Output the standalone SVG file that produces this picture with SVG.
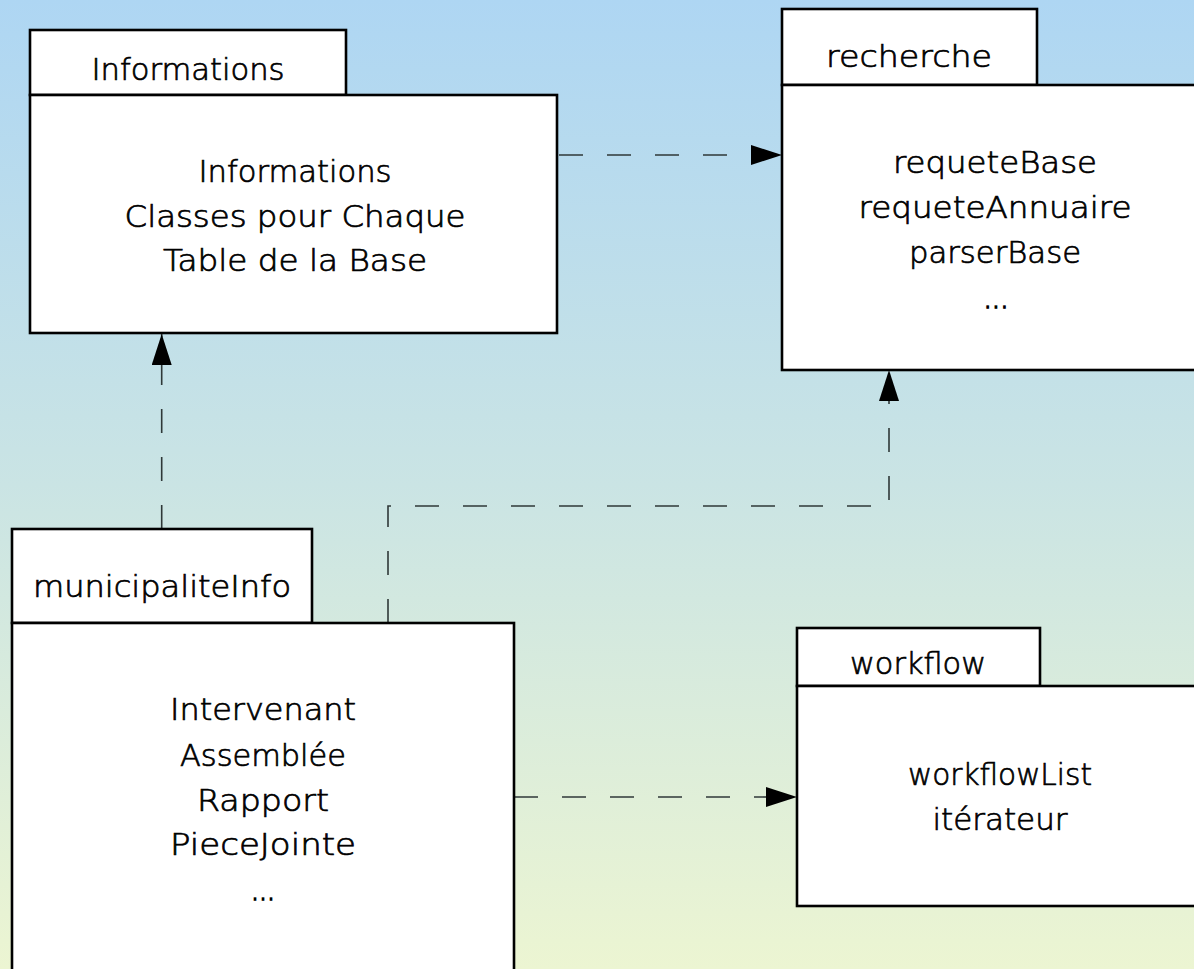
<svg xmlns="http://www.w3.org/2000/svg" width="1194" height="969" viewBox="0 0 1194 969">
<defs>
<linearGradient id="bg" x1="0" y1="0" x2="0" y2="1">
<stop offset="0" stop-color="#aed6f3"/>
<stop offset="0.5" stop-color="#cae4e4"/>
<stop offset="1" stop-color="#ecf5d2"/>
</linearGradient>
<marker id="arr" markerUnits="userSpaceOnUse" markerWidth="34" markerHeight="22" refX="31" refY="10" orient="auto">
<path d="M0,0 L31,10 L0,20 Z" fill="#000"/>
</marker>
<style>
.box{fill:#fff;stroke:#000;stroke-width:2.6}
.t{font-family:"DejaVu Sans","Liberation Sans",sans-serif;font-size:30px;font-weight:300;fill:#000;stroke:#000;stroke-width:0.7;text-anchor:middle}
.c{fill:none;stroke:#2f3838;stroke-width:1.6;stroke-dasharray:24 24}
</style>
</defs>
<rect width="1194" height="969" fill="url(#bg)"/>
<g id="connectors">
<path class="c" d="M559,155 L782,155" marker-end="url(#arr)"/>
<path class="c" d="M161.7,529 L161.7,334" marker-end="url(#arr)"/>
<path class="c" d="M388,623 L388,506 L889,506 L889,370" marker-end="url(#arr)"/>
<path class="c" d="M514,797 L797,797" marker-end="url(#arr)"/>
</g>
<g id="Informations">
<rect class="box" x="30" y="30" width="316" height="65"/>
<rect class="box" x="30" y="95" width="527" height="238"/>
<text class="t" x="188" y="80" textLength="193" lengthAdjust="spacingAndGlyphs">Informations</text>
<text class="t" x="295" y="182" textLength="193" lengthAdjust="spacingAndGlyphs">Informations</text>
<text class="t" x="295" y="227" textLength="341" lengthAdjust="spacingAndGlyphs">Classes pour Chaque</text>
<text class="t" x="295" y="271" textLength="264" lengthAdjust="spacingAndGlyphs">Table de la Base</text>
</g>
<g id="recherche">
<rect class="box" x="782" y="9" width="255" height="76"/>
<rect class="box" x="782" y="85" width="424" height="285"/>
<text class="t" x="909" y="67" textLength="166" lengthAdjust="spacingAndGlyphs">recherche</text>
<text class="t" x="995" y="173" textLength="204" lengthAdjust="spacingAndGlyphs">requeteBase</text>
<text class="t" x="995" y="218" textLength="273" lengthAdjust="spacingAndGlyphs">requeteAnnuaire</text>
<text class="t" x="995" y="263" textLength="172" lengthAdjust="spacingAndGlyphs">parserBase</text>
<text class="t" x="996" y="308" textLength="25" lengthAdjust="spacingAndGlyphs" style="stroke-width:1.6">...</text>
</g>
<g id="municipaliteInfo">
<rect class="box" x="12" y="529" width="300" height="94"/>
<rect class="box" x="12" y="623" width="502" height="370"/>
<text class="t" x="162" y="597" textLength="258" lengthAdjust="spacingAndGlyphs">municipaliteInfo</text>
<text class="t" x="263" y="720" textLength="186" lengthAdjust="spacingAndGlyphs">Intervenant</text>
<text class="t" x="263" y="766" textLength="166" lengthAdjust="spacingAndGlyphs">Assemblée</text>
<text class="t" x="263" y="811" textLength="132" lengthAdjust="spacingAndGlyphs">Rapport</text>
<text class="t" x="263" y="855" textLength="186" lengthAdjust="spacingAndGlyphs">PieceJointe</text>
<text class="t" x="263" y="900" textLength="24" lengthAdjust="spacingAndGlyphs" style="stroke-width:1.6">...</text>
</g>
<g id="workflow">
<rect class="box" x="797" y="628" width="243" height="58"/>
<rect class="box" x="797" y="686" width="406" height="220"/>
<text class="t" x="918" y="674" textLength="136" lengthAdjust="spacingAndGlyphs">workflow</text>
<text class="t" x="1000" y="785" textLength="184" lengthAdjust="spacingAndGlyphs">workflowList</text>
<text class="t" x="1000" y="830" textLength="135" lengthAdjust="spacingAndGlyphs">itérateur</text>
</g>
</svg>
